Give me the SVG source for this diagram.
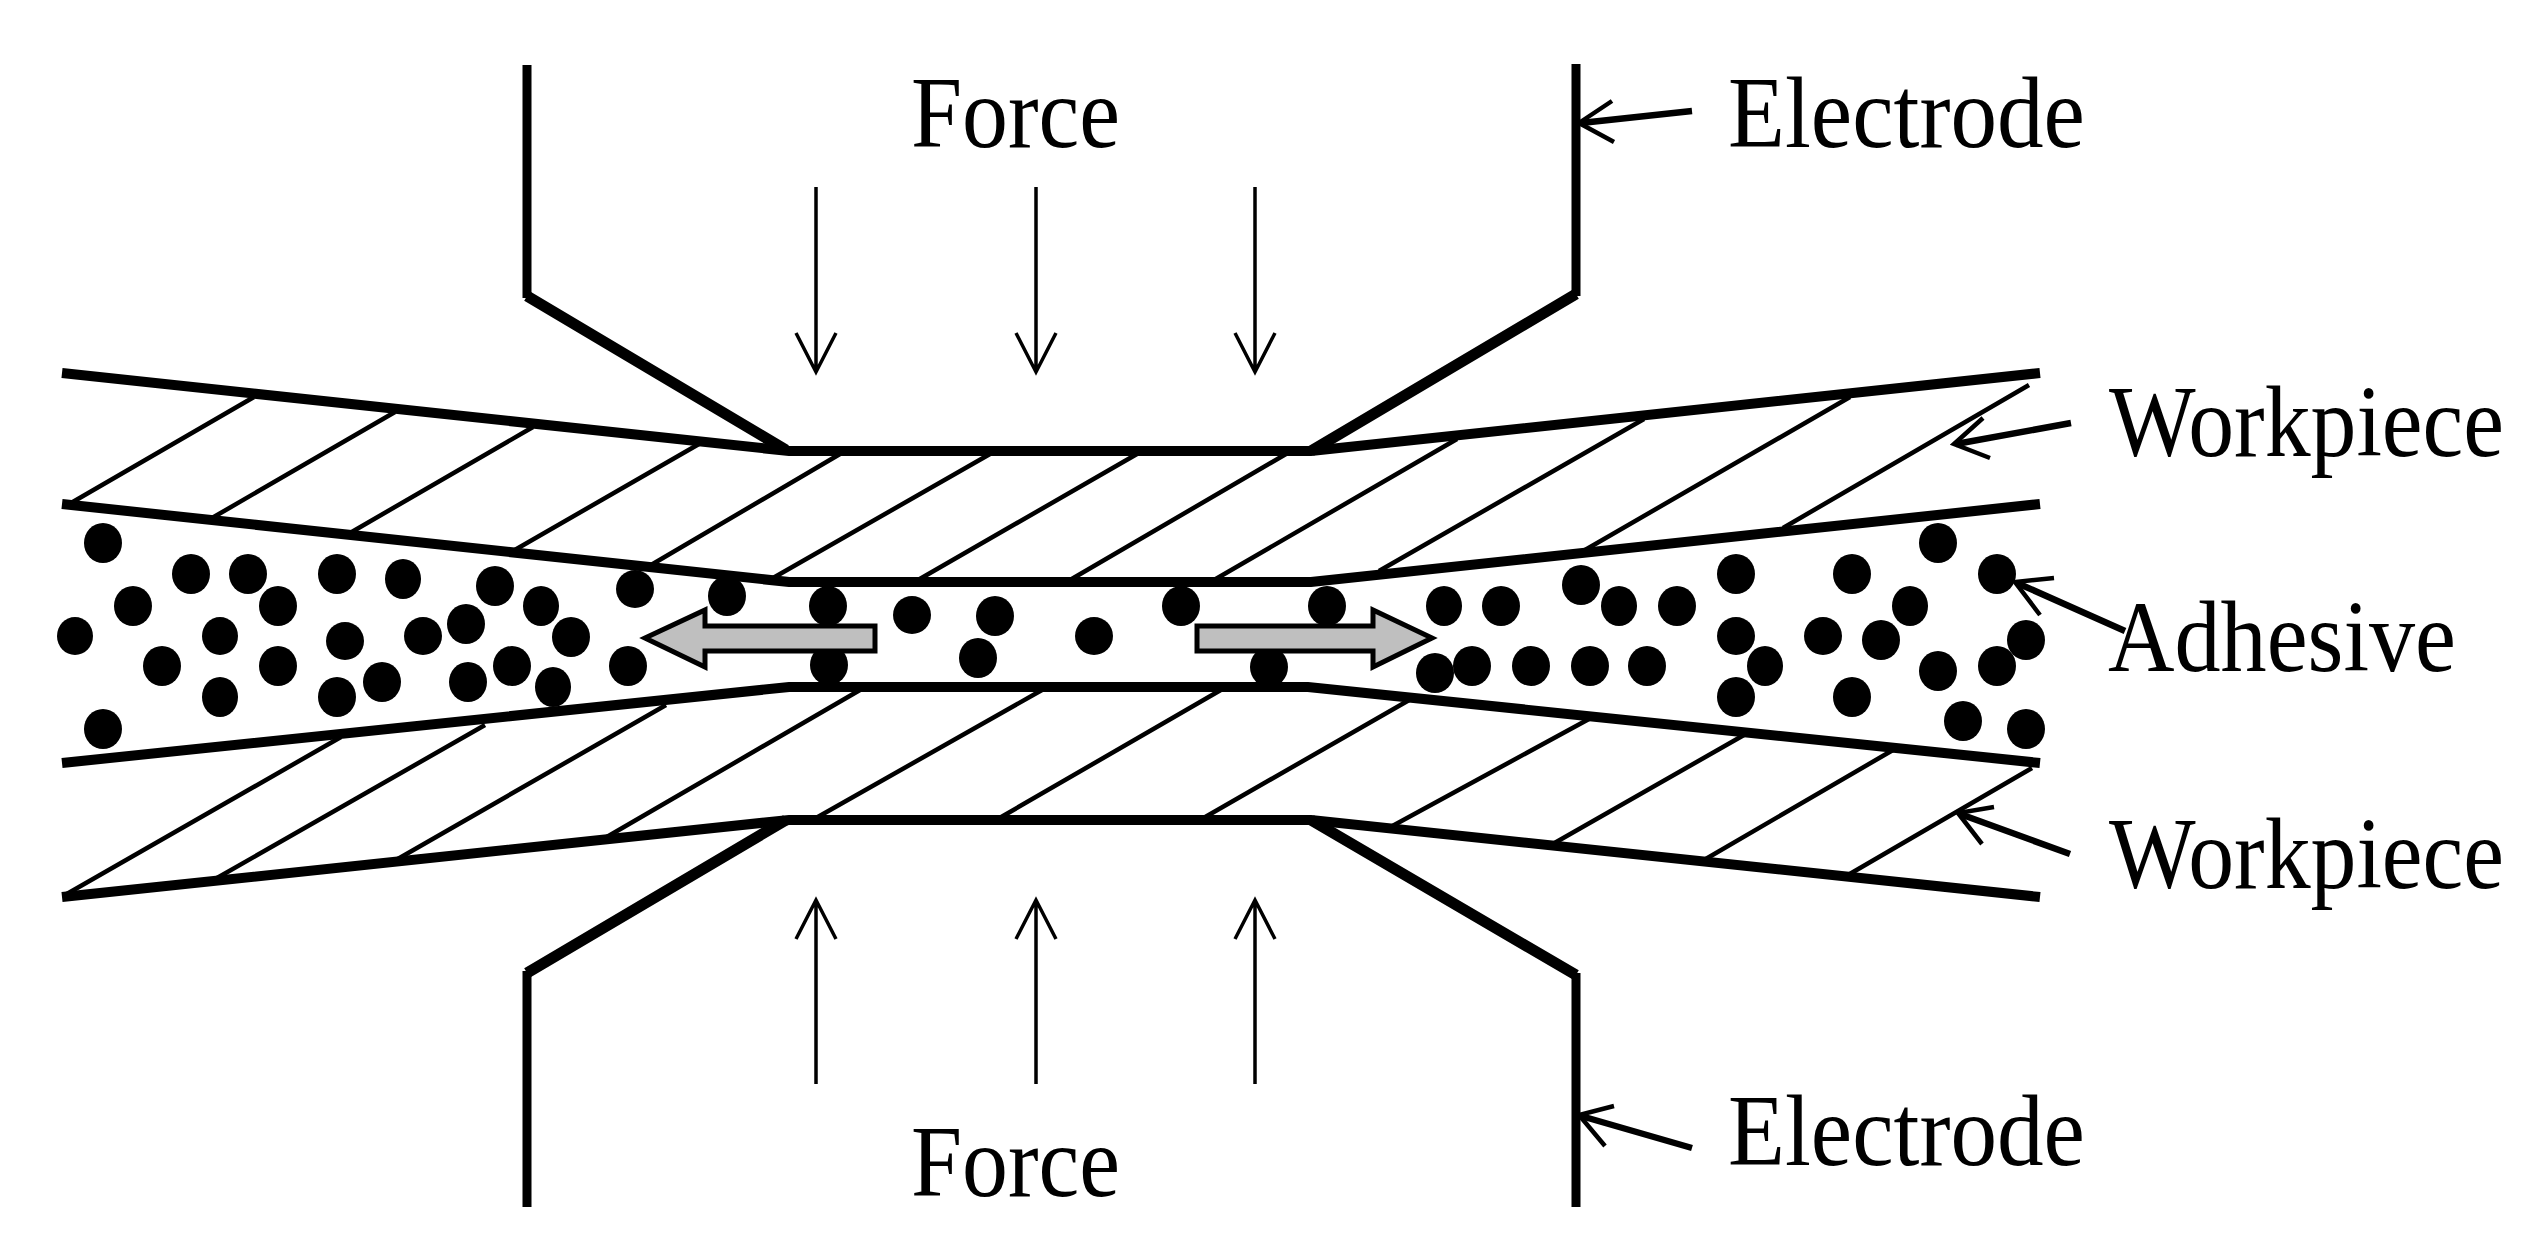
<svg xmlns="http://www.w3.org/2000/svg" width="2535" height="1251" viewBox="0 0 2535 1251">
<style>
.thick{fill:none;stroke:#000;stroke-width:10;stroke-linejoin:miter}
.elec{fill:none;stroke:#000;stroke-width:9}
.elec-slant{fill:none;stroke:#000;stroke-width:11}
.hatch{fill:none;stroke:#000;stroke-width:4.5}
.force{fill:none;stroke:#000;stroke-width:3.5}
.lead{fill:none;stroke:#000;stroke-width:6.5}
.wing{fill:none;stroke:#000;stroke-width:4.5}
.dots ellipse{fill:#000}
.flow{fill:#bfbfbf;stroke:#000;stroke-width:5}
text{font-family:"Liberation Serif","Times New Roman",serif;font-size:101px;fill:#000}
</style>
<rect width="2535" height="1251" fill="#fff"/>
<g id="hatch-upper">
<path class="hatch" d="M71 503L254 397M212 518L395 412M350 533L533 427M513 551L699 444M651 565L840 454M773 578L990 454M918 580L1137 454M1070 580L1286 454M1214 580L1457 439M1379 571L1644 419M1585 550L1850 397M1783 528L2029 385"/>
</g>
<g id="hatch-lower">
<path class="hatch" d="M65 895L341 737M217 878L485 725M396 860L666 705M605 838L860 690M816 818L1042 690M996 820L1226 687M1200 820L1411 699M1385 830L1589 719M1551 845L1744 735M1704 860L1893 750M1848 875L2032 768"/>
</g>
<g id="adhesive-particles" class="dots">
<ellipse cx="103" cy="543" rx="19" ry="20"/><ellipse cx="191" cy="574" rx="19" ry="20"/><ellipse cx="248" cy="574" rx="19" ry="20"/><ellipse cx="337" cy="574" rx="19" ry="20"/><ellipse cx="403" cy="579" rx="18" ry="20"/><ellipse cx="495" cy="586" rx="19" ry="20"/><ellipse cx="635" cy="589" rx="19" ry="19"/><ellipse cx="727" cy="596" rx="19" ry="20"/><ellipse cx="828" cy="606" rx="19" ry="20"/><ellipse cx="133" cy="606" rx="19" ry="20"/><ellipse cx="278" cy="606" rx="19" ry="20"/><ellipse cx="541" cy="606" rx="18" ry="20"/><ellipse cx="75" cy="636" rx="18" ry="19"/><ellipse cx="220" cy="636" rx="18" ry="19"/><ellipse cx="345" cy="641" rx="19" ry="19"/><ellipse cx="423" cy="636" rx="19" ry="19"/><ellipse cx="466" cy="624" rx="19" ry="20"/><ellipse cx="571" cy="637" rx="19" ry="20"/><ellipse cx="162" cy="666" rx="19" ry="20"/><ellipse cx="278" cy="666" rx="19" ry="20"/><ellipse cx="512" cy="666" rx="19" ry="20"/><ellipse cx="628" cy="666" rx="19" ry="20"/><ellipse cx="829" cy="665" rx="19" ry="20"/><ellipse cx="220" cy="697" rx="18" ry="20"/><ellipse cx="337" cy="697" rx="19" ry="20"/><ellipse cx="382" cy="682" rx="19" ry="20"/><ellipse cx="468" cy="682" rx="19" ry="20"/><ellipse cx="553" cy="687" rx="18" ry="20"/><ellipse cx="103" cy="729" rx="19" ry="20"/>
<ellipse cx="912" cy="615" rx="19" ry="19"/><ellipse cx="995" cy="616" rx="19" ry="20"/><ellipse cx="978" cy="658" rx="19" ry="20"/><ellipse cx="1094" cy="636" rx="19" ry="19"/><ellipse cx="1181" cy="606" rx="19" ry="20"/><ellipse cx="1327" cy="606" rx="19" ry="20"/><ellipse cx="1269" cy="667" rx="19" ry="20"/><ellipse cx="1444" cy="606" rx="18" ry="20"/><ellipse cx="1501" cy="606" rx="19" ry="20"/><ellipse cx="1581" cy="585" rx="19" ry="20"/><ellipse cx="1619" cy="606" rx="18" ry="20"/><ellipse cx="1677" cy="606" rx="19" ry="20"/><ellipse cx="1435" cy="673" rx="19" ry="20"/><ellipse cx="1472" cy="666" rx="19" ry="20"/><ellipse cx="1531" cy="666" rx="19" ry="20"/><ellipse cx="1590" cy="666" rx="19" ry="20"/><ellipse cx="1647" cy="666" rx="19" ry="20"/>
<ellipse cx="1736" cy="574" rx="19" ry="20"/><ellipse cx="1852" cy="574" rx="19" ry="20"/><ellipse cx="1938" cy="543" rx="19" ry="20"/><ellipse cx="1997" cy="574" rx="19" ry="20"/><ellipse cx="1910" cy="606" rx="18" ry="20"/><ellipse cx="1736" cy="636" rx="19" ry="19"/><ellipse cx="1823" cy="636" rx="19" ry="19"/><ellipse cx="1881" cy="640" rx="19" ry="20"/><ellipse cx="2026" cy="640" rx="19" ry="20"/><ellipse cx="1765" cy="666" rx="18" ry="20"/><ellipse cx="1997" cy="666" rx="19" ry="20"/><ellipse cx="1938" cy="671" rx="19" ry="20"/><ellipse cx="1736" cy="697" rx="19" ry="20"/><ellipse cx="1852" cy="697" rx="19" ry="20"/><ellipse cx="1963" cy="721" rx="19" ry="20"/><ellipse cx="2026" cy="729" rx="19" ry="20"/>
</g>
<g id="workpiece-upper">
<path class="thick" d="M62 373L789 451H1311L2040 373"/>
<path class="thick" d="M62 504L789 582H1311L2040 504"/>
</g>
<g id="workpiece-lower">
<path class="thick" d="M62 763L789 687H1308L2040 763"/>
<path class="thick" d="M62 897L789 820H1311L2040 897"/>
</g>
<g id="electrode-upper">
<path class="elec" d="M527 65V298M1576 64V296"/>
<path class="elec-slant" d="M527 296L786 450M1576 294L1311 451"/>
</g>
<g id="electrode-lower">
<path class="elec" d="M527 1207V971M1576 1207V973"/>
<path class="elec-slant" d="M527 973L786 820M1576 975L1311 820"/>
</g>
<g id="flow-left"><path class="flow" d="M645 638L705 610V626H875V651H705V667Z"/></g>
<g id="flow-right"><path class="flow" d="M1432 638L1373 610V626H1197V651H1373V667Z"/></g>
<g id="connectors">
<path class="force" d="M816 187V371M796 333L816 372L836 333M1036 187V371M1016 333L1036 372L1056 333M1255 187V371M1235 333L1255 372L1275 333"/>
<path class="force" d="M816 1084V901M796 939L816 900L836 939M1036 1084V901M1016 939L1036 900L1056 939M1255 1084V901M1235 939L1255 900L1275 939"/>
<path class="lead" d="M1692 111L1581 123M1692 1148L1581 1116M2071 423L1956 444M2125 631L2017 583M2070 854L1960 814"/>
<path class="wing" d="M1612 101L1579 123L1614 142M1614 1106L1579 1115L1605 1146M1983 418L1954 444L1990 458M2054 578L2015 582L2040 615M1994 807L1958 813L1982 844"/>
</g>
<g id="label-force-top"><text transform="translate(911 147) scale(.91 1)" textLength="229.7" lengthAdjust="spacingAndGlyphs">Force</text></g>
<g id="label-force-bottom"><text transform="translate(911 1196) scale(.91 1)" textLength="229.7" lengthAdjust="spacingAndGlyphs">Force</text></g>
<g id="label-electrode-top"><text transform="translate(1728 147) scale(.92 1)" textLength="388" lengthAdjust="spacingAndGlyphs">Electrode</text></g>
<g id="label-electrode-bottom"><text transform="translate(1728 1165) scale(.92 1)" textLength="388" lengthAdjust="spacingAndGlyphs">Electrode</text></g>
<g id="label-workpiece-top"><text transform="translate(2109 456) scale(.9 1)" textLength="438.9" lengthAdjust="spacingAndGlyphs">Workpiece</text></g>
<g id="label-adhesive"><text transform="translate(2108 671) scale(.91 1)" textLength="382.4" lengthAdjust="spacingAndGlyphs">Adhesive</text></g>
<g id="label-workpiece-bottom"><text transform="translate(2109 888) scale(.9 1)" textLength="438.9" lengthAdjust="spacingAndGlyphs">Workpiece</text></g>
</svg>
